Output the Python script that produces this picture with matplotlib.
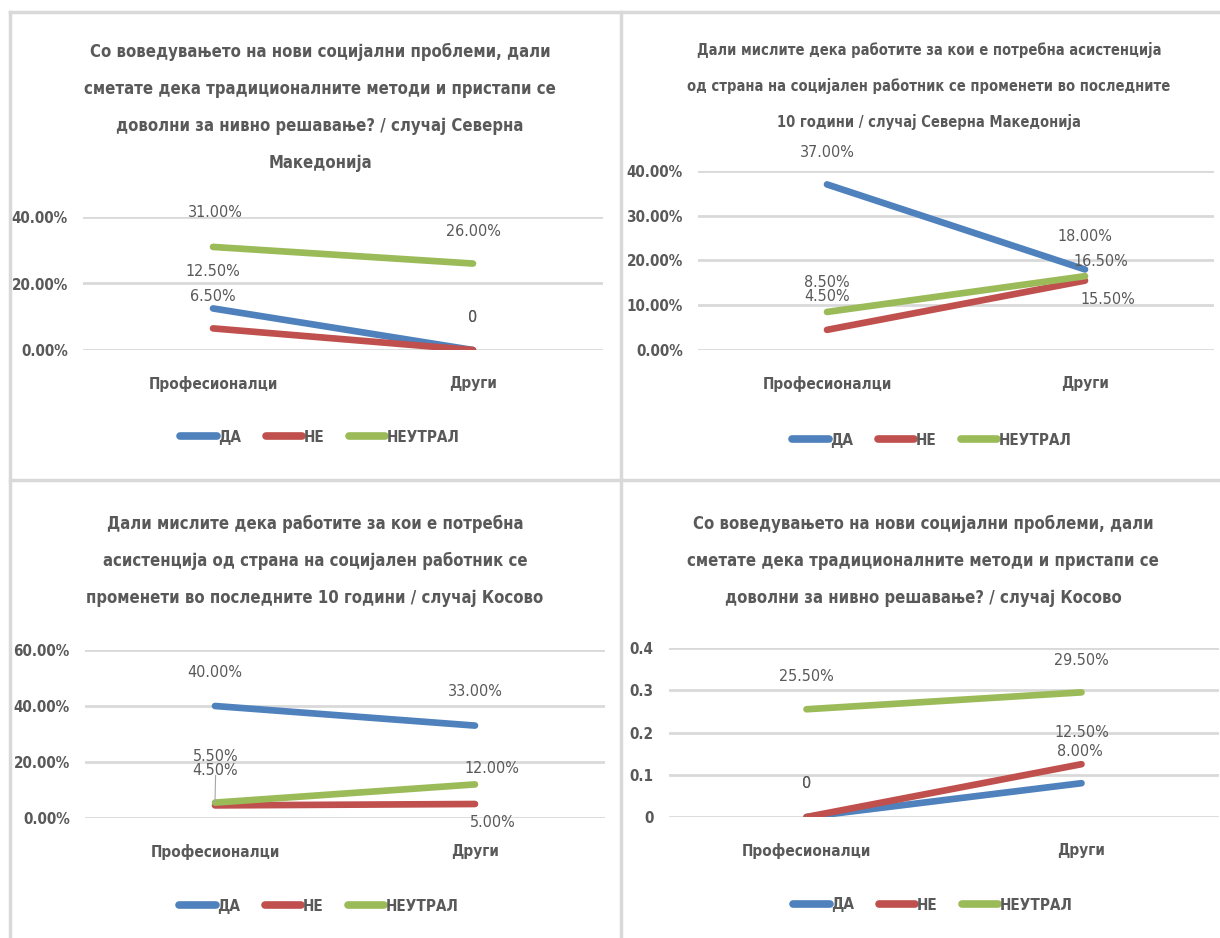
import os
import numpy as np
import matplotlib.pyplot as plt
from matplotlib import font_manager as fm
from matplotlib.lines import Line2D

W, H = 1220, 938
GREY = '#595959'

# data
categories = ['Професионалци', 'Други']
series_names = ['ДА', 'НЕ', 'НЕУТРАЛ']
colors = ['#4F81BD', '#C0504D', '#9BBB59']

p1_da = [0.125, 0.0]
p1_ne = [0.065, 0.0]
p1_neutral = [0.31, 0.26]

p2_da = [0.37, 0.18]
p2_ne = [0.045, 0.155]
p2_neutral = [0.085, 0.165]

p3_da = [0.40, 0.33]
p3_ne = [0.045, 0.05]
p3_neutral = [0.055, 0.12]

p4_da = [0.0, 0.08]
p4_ne = [0.0, 0.125]
p4_neutral = [0.255, 0.295]

title1 = ['Со воведувањето на нови социјални проблеми, дали',
          'сметате дека традиционалните методи и пристапи се',
          'доволни за нивно решавање? / случај Северна',
          'Македонија']
title2 = ['Дали мислите дека работите за кои е потребна асистенција',
          'од страна на социјален работник се променети во последните',
          '10 години / случај Северна Македонија']
title3 = ['Дали мислите дека работите за кои е потребна',
          'асистенција од страна на социјален работник се',
          'променети во последните 10 години / случај Косово']
title4 = ['Со воведувањето на нови социјални проблеми, дали',
          'сметате дека традиционалните методи и пристапи се',
          'доволни за нивно решавање? / случај Косово']

# pick a narrow font if there is one (the reference uses a condensed look)
narrow = None
for key in ['LiberationSansNarrow', 'DejaVuSansCondensed', 'RobotoCondensed',
            'OpenSans_Condensed', 'OpenSansCondensed', 'NotoSans-Condensed',
            'Roboto_Condensed']:
    for f in fm.fontManager.ttflist:
        if os.path.basename(f.fname).replace(' ', '').startswith(key):
            narrow = f
            break
    if narrow is not None:
        break
if narrow is not None:
    plt.rcParams['font.family'] = [narrow.name, 'DejaVu Sans']
    plt.rcParams['font.stretch'] = narrow.stretch
else:
    plt.rcParams['font.family'] = ['DejaVu Sans']

fig = plt.figure(figsize=(W / 100, H / 100), dpi=100)
renderer = fig.canvas.get_renderer()


def fit_size(text, weight, target_px):
    t = fig.text(0, 0, text, fontsize=10, fontweight=weight)
    w = t.get_window_extent(renderer).width
    t.remove()
    return 10 * target_px / w


TITLE_SZ = fit_size(title1[0], 'bold', 456)
TITLE2_SZ = fit_size(title2[1], 'bold', 478)
LABEL_SZ = fit_size('31.00%', 'normal', 55)
CAT_SZ = fit_size('Професионалци', 'bold', 128)
TICK_SZ = fit_size('31.00%', 'normal', 52)
LEG_SZ = CAT_SZ


def px_axes(x0, x1, ytop, ybot):
    return fig.add_axes([x0 / W, 1 - ybot / H, (x1 - x0) / W, (ybot - ytop) / H])


def fmt(v):
    return '0' if v == 0 else f'{v * 100:.2f}%'


def panel(ax, data, ymax, ystep, ticks_pct, offsets, leader=None):
    x = np.arange(len(categories))
    for vals, c in zip(data, colors):
        ax.plot(x, vals, color=c, lw=4.8, solid_capstyle='round', zorder=3)
    ax.set_xlim(-0.5, 1.5)
    ax.set_ylim(0, ymax)
    yt = np.arange(0, ymax + 1e-9, ystep)
    ax.set_yticks(yt)
    if ticks_pct:
        ax.set_yticklabels([f'{t * 100:.2f}%' for t in yt])
    else:
        ax.set_yticklabels(['0' if t == 0 else f'{t:.1f}' for t in yt])
    ax.set_xticks(x)
    ax.set_xticklabels(categories)
    ax.tick_params(length=0, labelcolor=GREY)
    ax.tick_params(axis='x', pad=19, labelsize=CAT_SZ)
    ax.tick_params(axis='y', pad=11, labelsize=TICK_SZ)
    for lab in ax.get_xticklabels() + ax.get_yticklabels():
        lab.set_fontweight('bold')
    ax.grid(axis='y', color='#d9d9d9', lw=2)
    ax.set_axisbelow(True)
    for s in ax.spines.values():
        s.set_visible(False)
    ax.patch.set_alpha(0)
    for si, vals in enumerate(data):
        for ci, v in enumerate(vals):
            dx, dy = offsets[si][ci]
            kw = {}
            if leader is not None and leader == (si, ci):
                kw['arrowprops'] = dict(arrowstyle='-', color='#a6a6a6', lw=0.8,
                                        shrinkA=6, shrinkB=0)
            ax.annotate(fmt(v), (ci, v), xytext=(dx, dy), textcoords='offset pixels',
                        ha='center', va='center', fontsize=LABEL_SZ, color=GREY,
                        annotation_clip=False, zorder=4, **kw)


def legend(cx, cy):
    handles = [Line2D([], [], color=c, lw=5.5, solid_capstyle='round') for c in colors]
    fig.legend(handles, series_names, loc='center', bbox_to_anchor=(cx / W, 1 - cy / H),
               ncol=3, frameon=False, handlelength=2.4, handletextpad=0.1,
               columnspacing=1.6, prop=dict(size=LEG_SZ, weight='bold'),
               labelcolor=GREY)


def title(lines, cx, y0, step, size):
    for i, line in enumerate(lines):
        fig.text(cx / W, 1 - (y0 + i * step) / H, line, ha='center', va='center',
                 fontsize=size, fontweight='bold', color=GREY)


# panel borders
for (xa, xb, ya, yb) in [(10, 1220, 12, 12), (10, 10, 12, 938), (621, 621, 12, 938),
                         (10, 1220, 480, 480)]:
    fig.add_artist(Line2D([xa / W, xb / W], [1 - ya / H, 1 - yb / H],
                          color='#d9d9d9', lw=2.5, transform=fig.transFigure))

# panel 1
ax1 = px_axes(83, 603, 217, 350)
panel(ax1, [p1_da, p1_ne, p1_neutral], 0.4, 0.2, True,
      [[(0, 37), (0, 32)], [(0, 32), (0, 32)], [(2, 34), (0, 32)]])
title(title1, 320, 52, 37, TITLE_SZ)
legend(320, 437)

# panel 2
ax2 = px_axes(698, 1214, 171, 350)
panel(ax2, [p2_da, p2_ne, p2_neutral], 0.4, 0.1, True,
      [[(0, 32), (0, 33)], [(0, 33), (23, -19)], [(0, 29), (16, 15)]])
title(title2, 929, 50, 36, TITLE2_SZ)
legend(932, 440)

# panel 3
ax3 = px_axes(85, 605, 650, 818)
panel(ax3, [p3_da, p3_ne, p3_neutral], 0.6, 0.2, True,
      [[(0, 34), (0, 34)], [(0, 35), (18, -18)], [(1, 46), (17, 16)]],
      leader=(2, 0))
title(title3, 315, 524, 37, TITLE_SZ)
legend(319, 906)

# panel 4
ax4 = px_axes(669, 1219, 648, 817)
panel(ax4, [p4_da, p4_ne, p4_neutral], 0.4, 0.1, False,
      [[(0, 34), (-2, 32)], [(0, 34), (0, 32)], [(0, 33), (0, 32)]])
title(title4, 923, 524, 37, TITLE_SZ)
legend(933, 905)

fig.savefig('out.png', dpi=100, facecolor='white')
